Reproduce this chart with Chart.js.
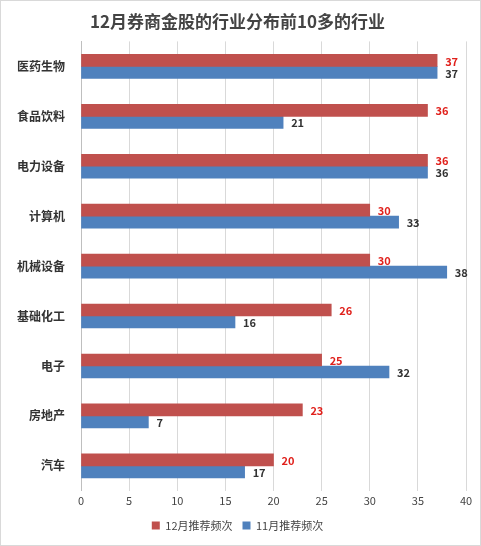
<!DOCTYPE html>
<html><head><meta charset="utf-8">
<script src="https://cdn.jsdelivr.net/npm/chart.js@4"></script>
<style>
html,body{margin:0;padding:0;background:#fff;}
#wrap{position:absolute;left:0;top:0;width:479px;height:544px;border:1px solid #d9d9d9;}
</style></head><body>
<div id="wrap"><canvas id="c" width="479" height="544"></canvas></div>
<script>
const categories = ['医药生物','食品饮料','电力设备','计算机','机械设备','基础化工','电子','房地产','汽车'];
const dec = [37,36,36,30,30,26,25,23,20];
const nov = [37,21,36,33,38,16,32,7,17];
const seriesNames = ['12月推荐频次','11月推荐频次'];
const font = "'Noto Sans CJK SC', sans-serif";
const labelPlugin = {
  id:'labels',
  afterDatasetsDraw(chart){
    const ctx = chart.ctx;
    chart.data.datasets.forEach((ds,i)=>{
      const meta = chart.getDatasetMeta(i);
      meta.data.forEach((bar,j)=>{
        ctx.save();
        ctx.font = "bold 11px " + font;
        ctx.fillStyle = i===0 ? '#e0201b' : '#333';
        ctx.textBaseline='middle';
        ctx.fillText(ds.data[j], bar.x+8, bar.y+1);
        ctx.restore();
      });
    });
  }
};
new Chart(document.getElementById('c'),{
  type:'bar',
  data:{labels:categories,datasets:[
    {label:seriesNames[0],data:dec,backgroundColor:'#C0504D',barThickness:12,categoryPercentage:0.5,barPercentage:1},
    {label:seriesNames[1],data:nov,backgroundColor:'#4F81BD',barThickness:12,categoryPercentage:0.5,barPercentage:1}
  ]},
  options:{
    indexAxis:'y',responsive:false,animation:false,
    layout:{padding:{left:8,right:14,top:4,bottom:4}},
    plugins:{
      title:{display:true,text:'12月券商金股的行业分布前10多的行业',color:'#444',font:{family:font,size:17,weight:'bold'},padding:{top:6,bottom:10}},
      legend:{position:'bottom',labels:{boxWidth:8,boxHeight:8,color:'#444',font:{family:font,size:11}}},
      tooltip:{enabled:false}
    },
    scales:{
      x:{min:0,max:40,ticks:{stepSize:5,color:'#444',font:{family:font,size:11}},grid:{color:'#d9d9d9',drawTicks:false},border:{display:false}},
      y:{ticks:{color:'#333',font:{family:font,size:12,weight:'bold'},padding:8},grid:{display:false},border:{color:'#bfbfbf'}}
    }
  },
  plugins:[labelPlugin]
});
</script></body></html>
